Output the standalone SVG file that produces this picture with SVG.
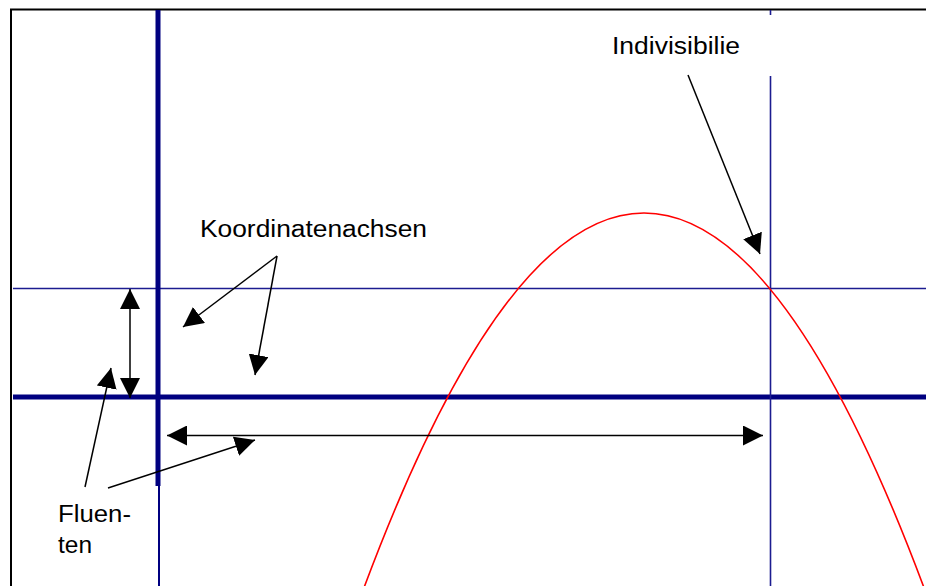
<svg xmlns="http://www.w3.org/2000/svg" width="926" height="586" viewBox="0 0 926 586">
<style>
.lbl{font-family:"Liberation Sans",Arial,sans-serif;font-size:23px;fill:#000}
.thick{stroke:#000080;stroke-width:5;fill:none}
.thin{stroke:#1c1c90;stroke-width:1.6;fill:none}
.arr{stroke:#000;stroke-width:1.5;fill:none}
</style>
<defs>
<marker id="ah" viewBox="0 0 20 20" refX="20" refY="10" markerWidth="20" markerHeight="20" markerUnits="userSpaceOnUse" orient="auto-start-reverse">
<path d="M0,0 L20,10 L0,20 z" fill="#000"/>
</marker>
</defs>
<rect width="926" height="586" fill="#fff"/>
<g id="frame">
<path d="M11,586 V9.5 H926" stroke="#000" stroke-width="2" fill="none"/>
</g>
<g id="axes">
<line class="thin" x1="13" y1="288.5" x2="926" y2="288.5"/>
<line class="thick" x1="13" y1="397" x2="926" y2="397"/>
<line class="thick" x1="158" y1="10" x2="158" y2="486"/>
<line x1="159" y1="486" x2="159" y2="586" stroke="#000080" stroke-width="2"/>
<line class="thin" x1="770.5" y1="10" x2="770.5" y2="15"/>
<line class="thin" x1="770.5" y1="76" x2="770.5" y2="586"/>
</g>
<g id="curve">
<path d="M360,598.5 Q644,-172.5 928,598.5" stroke="#ff0000" stroke-width="1.6" fill="none"/>
</g>
<g id="labels">
<text id="indivisibilie" class="lbl" x="612" y="54" textLength="128" lengthAdjust="spacingAndGlyphs">Indivisibilie</text>
<text id="koordinatenachsen" class="lbl" x="200" y="237" textLength="227" lengthAdjust="spacingAndGlyphs">Koordinatenachsen</text>
<g id="fluenten">
<text class="lbl" x="58" y="522" font-size="25" textLength="73" lengthAdjust="spacingAndGlyphs">Fluen-</text>
<text class="lbl" x="58" y="553" font-size="25" textLength="34" lengthAdjust="spacingAndGlyphs">ten</text>
</g>
</g>
<g id="connectors">
<line class="arr" x1="688" y1="75" x2="760" y2="254" marker-end="url(#ah)"/>
<line class="arr" x1="277" y1="256" x2="183" y2="327" marker-end="url(#ah)"/>
<line class="arr" x1="277" y1="256" x2="255" y2="375" marker-end="url(#ah)"/>
<line class="arr" x1="130" y1="289" x2="130" y2="398" marker-start="url(#ah)" marker-end="url(#ah)"/>
<line class="arr" x1="167" y1="435.5" x2="763" y2="435.5" marker-start="url(#ah)" marker-end="url(#ah)"/>
<line class="arr" x1="85" y1="487" x2="111" y2="368" marker-end="url(#ah)"/>
<line class="arr" x1="108" y1="488" x2="255" y2="440" marker-end="url(#ah)"/>
</g>
</svg>
